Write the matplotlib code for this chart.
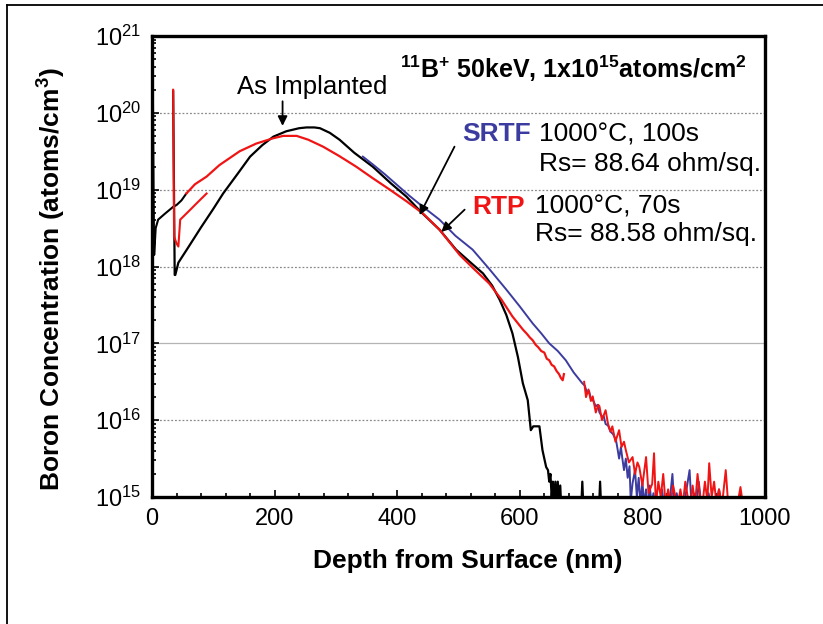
import numpy as np
import matplotlib
matplotlib.use("Agg")
import matplotlib.pyplot as plt
from matplotlib.lines import Line2D
from matplotlib.ticker import FixedLocator, LogLocator, NullFormatter

plt.rcParams['font.family'] = ['Liberation Sans', 'DejaVu Sans']
plt.rcParams['mathtext.fontset'] = 'custom'
plt.rcParams['mathtext.rm'] = 'Liberation Sans'
plt.rcParams['mathtext.bf'] = 'Liberation Sans:bold'

# ---------------- data (depth in nm, log10 of concentration) ----------------
surface_x = [0.5, 1.5, 2.5, 3.5, 6, 10, 20, 35, 40, 48, 56]
surface_log = [18.2, 20.2, 19.0, 18.15, 18.5, 18.61, 18.68, 18.78, 18.80, 18.86, 18.95]

implanted_x = [34.5, 37, 38, 43, 60, 80, 100, 116, 140, 160, 180, 198, 219, 240, 252,
               265, 274, 290, 306, 330, 360, 390, 415, 440, 469, 496, 520, 540, 555,
               567, 578, 588, 597, 605, 613, 618, 622, 632, 637, 643, 646, 648, 650,
               652, 654, 656, 658, 660, 662, 664, 666, 668, 672, 700, 702, 704, 729,
               731, 733, 740]
implanted_log = [20.28, 17.89, 17.89, 18.05, 18.26, 18.51, 18.75, 18.95, 19.21, 19.43,
                 19.58, 19.69, 19.76, 19.80, 19.81, 19.81, 19.80, 19.74, 19.65, 19.48,
                 19.30, 19.08, 18.91, 18.70, 18.48, 18.22, 18.05, 17.91, 17.75, 17.57,
                 17.37, 17.13, 16.82, 16.48, 16.26, 15.87, 15.92, 15.92, 15.61, 15.39,
                 15.35, 15.20, 15.30, 15.00, 15.20, 14.80, 15.20, 14.80, 15.20, 14.80,
                 15.15, 14.80, 14.80, 14.80, 15.20, 14.80, 14.80, 15.20, 14.80, 14.80]

rtp_short_x = [34.5, 36, 40, 43, 46, 60, 75, 89]
rtp_short_log = [20.30, 18.39, 18.30, 18.26, 18.61, 18.72, 18.84, 18.95]

rtp_main_x = [56, 70, 89, 110, 143, 170, 198, 214, 236, 255, 279, 305, 333, 360, 388,
              415, 442, 469, 502, 525, 550, 570, 588, 605, 612, 616, 621, 626, 630,
              635, 640, 644, 648, 652, 656, 660, 664, 667, 670, 672]
rtp_main_log = [18.95, 19.07, 19.17, 19.32, 19.50, 19.60, 19.67, 19.70, 19.70, 19.65,
                19.56, 19.44, 19.30, 19.15, 19.00, 18.85, 18.69, 18.48, 18.15, 17.97,
                17.78, 17.57, 17.35, 17.18, 17.12, 17.08, 17.04, 16.98, 16.95, 16.90,
                16.88, 16.80, 16.78, 16.72, 16.70, 16.64, 16.60, 16.55, 16.52, 16.60]

rtp_tail_x = [705, 708, 712, 716, 719, 724, 728, 730, 734, 740, 744, 748, 751, 756, 762,
              766, 770, 773, 778, 784, 788, 792, 795, 800, 806, 810, 816, 819, 822, 826,
              830, 834, 838, 842, 846, 850, 854, 858, 862, 866, 870, 874, 878, 882, 886,
              890, 894, 898, 902, 906, 909, 913, 917, 921, 925, 930, 936, 940, 946, 950,
              955, 960, 964]
rtp_tail_log = [16.50, 16.30, 16.40, 16.25, 16.31, 16.10, 16.20, 16.18, 16.00, 16.13,
                15.95, 15.85, 15.92, 15.72, 15.87, 15.65, 15.72, 15.61, 15.45, 15.52,
                15.30, 15.45, 15.39, 15.15, 15.52, 15.05, 15.17, 15.57, 14.90, 15.20,
                15.00, 15.30, 14.90, 15.10, 14.90, 15.15, 15.00, 14.90, 15.10, 14.90,
                15.20, 15.00, 14.90, 15.15, 14.90, 15.30, 15.00, 14.90, 15.20, 14.95,
                15.44, 15.00, 15.20, 14.90, 15.10, 14.90, 15.35, 14.90, 14.90, 14.95,
                14.90, 15.13, 14.90]

srtf_x = [344, 360, 380, 400, 420, 440, 469, 495, 523, 550, 578, 600, 621, 635, 648,
          662, 675, 688, 702, 706, 710, 713, 716, 720, 724, 727, 730, 734, 737, 740,
          744, 748, 752, 757, 760, 762, 765, 767, 770, 773, 776, 779, 781, 784, 788,
          791, 794, 797, 800, 803, 806, 809, 812, 815, 818, 821, 824, 828, 832, 836,
          840, 844, 849, 852, 856, 860, 864, 868, 872, 877, 880, 884, 888, 892, 896,
          900, 904, 908, 912, 916, 920, 925, 930]
srtf_log = [19.43, 19.33, 19.20, 19.06, 18.92, 18.79, 18.61, 18.40, 18.22, 17.97,
            17.70, 17.48, 17.26, 17.13, 17.00, 16.90, 16.78, 16.62, 16.48, 16.45,
            16.35, 16.38, 16.28, 16.25, 16.18, 16.20, 16.10, 16.05, 16.05, 15.95,
            15.93, 15.85, 15.82, 15.74, 15.60, 15.50, 15.65, 15.52, 15.35, 15.50,
            15.25, 15.40, 14.95, 15.18, 15.35, 15.00, 15.25, 14.90, 15.20, 14.90,
            15.10, 14.85, 15.15, 14.90, 15.05, 14.85, 15.00, 14.90, 15.10, 14.85,
            15.00, 14.90, 15.30, 14.90, 15.05, 14.85, 15.00, 14.90, 15.10, 15.35,
            14.90, 15.05, 14.85, 15.20, 14.90, 15.00, 14.85, 15.05, 14.85, 15.00,
            14.90, 15.10, 14.85]

x_ticks = [0, 200, 400, 600, 800, 1000]
x_tick_labels = ['0', '200', '400', '600', '800', '1000']
y_ticks = [1e15, 1e16, 1e17, 1e18, 1e19, 1e20, 1e21]
y_tick_labels = [r'$\mathregular{10^{%d}}$' % e for e in range(15, 22)]

RED = '#f01414'
BLUE = '#3c3ca0'

# ---------------- figure ----------------
fig = plt.figure(figsize=(8.23, 6.24), dpi=100)
ax = fig.add_axes([0.1847, 0.2035, 0.7448, 0.7388])

ax.set_yscale('log')
ax.set_xlim(0, 1000)
ax.set_ylim(1e15, 1e21)

ax.plot(surface_x, 10 ** np.array(surface_log), color='black', lw=1.5)
ax.plot(implanted_x, 10 ** np.array(implanted_log), color='black', lw=1.6)
ax.plot(srtf_x, 10 ** np.array(srtf_log), color=BLUE, lw=1.4)
ax.plot(rtp_main_x, 10 ** np.array(rtp_main_log), color=RED, lw=1.6)
ax.plot(rtp_short_x, 10 ** np.array(rtp_short_log), color=RED, lw=1.5)
ax.plot(rtp_tail_x, 10 ** np.array(rtp_tail_log), color=RED, lw=1.4)

# ticks
ax.xaxis.set_major_locator(FixedLocator(x_ticks))
ax.set_xticklabels(x_tick_labels)
ax.xaxis.set_minor_locator(FixedLocator(np.arange(0, 1001, 40)))
ax.yaxis.set_major_locator(FixedLocator(y_ticks))
ax.set_yticklabels(y_tick_labels)
ax.yaxis.set_minor_locator(LogLocator(base=10, subs=np.arange(2, 10), numticks=20))
ax.yaxis.set_minor_formatter(NullFormatter())
ax.tick_params(which='both', direction='in', top=False, right=False, width=1.2)
ax.tick_params(which='major', length=5, labelsize=17, pad=8)
ax.tick_params(which='minor', length=3)

# grid
ax.grid(axis='y', which='major', color='#8a8a8a', linestyle=(0, (1.5, 1.5)), lw=0.9)
for gl, v in zip(ax.get_ygridlines(), y_ticks):
    if v == 1e17:
        gl.set_linestyle('-')
        gl.set_color('#b4b4b4')
ax.set_axisbelow(True)

for sp in ax.spines.values():
    sp.set_linewidth(2.4)
    sp.set_color('black')

ax.set_xlabel('Depth from Surface (nm)', fontsize=19, fontweight='bold')
ax.xaxis.set_label_coords(0.515, -0.112)
ax.set_ylabel('Boron Concentration (atoms/cm$^{\\mathbf{3}}$)', fontsize=19, fontweight='bold')
ax.yaxis.label.set_va('center')
ax.yaxis.set_label_coords(-0.166, 0.473)

# annotations
ax.text(404.5, 10 ** 20.57,
        r'$^{\mathbf{11}}$B$^{\mathbf{+}}$ 50keV, 1x10$^{\mathbf{15}}$atoms/cm$^{\mathbf{2}}$',
        fontsize=18, fontweight='bold', va='center', ha='left')
ax.text(262, 10 ** 20.33, 'As Implanted', fontsize=18.5, ha='center', va='center')
ax.annotate('', xy=(213, 10 ** 19.83), xytext=(213, 10 ** 20.15),
            arrowprops=dict(arrowstyle='-|>', color='black', lw=1.3,
                            mutation_scale=14, shrinkA=0, shrinkB=0))

ax.text(506, 10 ** 19.72, 'SRTF', color=BLUE, fontsize=19, fontweight='bold', va='center')
ax.text(632, 10 ** 19.72, '1000°C, 100s', fontsize=19, va='center')
ax.text(632, 10 ** 19.33, 'Rs= 88.64 ohm/sq.', fontsize=19, va='center')
ax.text(522, 10 ** 18.78, 'RTP', color=RED, fontsize=19, fontweight='bold', va='center')
ax.text(624, 10 ** 18.78, '1000°C, 70s', fontsize=19, va='center')
ax.text(624, 10 ** 18.42, 'Rs= 88.58 ohm/sq.', fontsize=19, va='center')

ax.annotate('', xy=(436.5, 10 ** 18.67), xytext=(493.5, 10 ** 19.56),
            arrowprops=dict(arrowstyle='-|>', color='black', lw=1.3,
                            mutation_scale=14, shrinkA=0, shrinkB=0))
ax.annotate('', xy=(472, 10 ** 18.45), xytext=(510, 10 ** 18.74),
            arrowprops=dict(arrowstyle='-|>', color='black', lw=1.3,
                            mutation_scale=14, shrinkA=0, shrinkB=0))

# figure border lines (top and left)
fig.add_artist(Line2D([7 / 823, 1.0], [1 - 5 / 624, 1 - 5 / 624], transform=fig.transFigure,
                      color='black', lw=1.3))
fig.add_artist(Line2D([7 / 823, 7 / 823], [1 - 5 / 624, 0.0], transform=fig.transFigure,
                      color='black', lw=1.3))

fig.savefig('out.png', dpi=100)
